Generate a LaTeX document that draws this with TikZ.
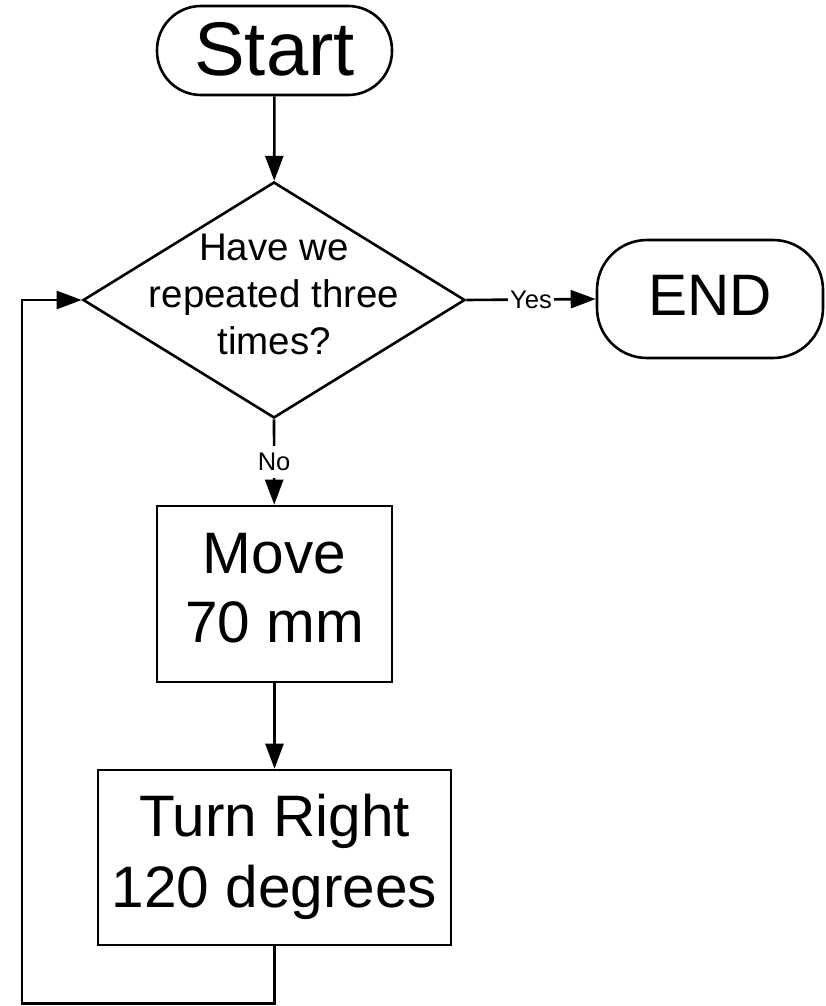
\documentclass[tikz,border=0pt]{standalone}
\usepackage{fontspec}
\setmainfont{Liberation Sans}
\usetikzlibrary{arrows.meta,shapes.geometric}
\begin{document}
\begin{tikzpicture}[x=1pt,y=1pt,
  every path/.style={line width=2.6pt},
  flow/.style={draw, line width=2.6pt, -{Triangle[length=25pt,width=18pt]}},
  terminal/.style={draw, line width=2.6pt, rectangle, inner sep=0pt},
  process/.style={draw, line width=2.6pt, rectangle, inner sep=0pt, align=center,
    font=\fontsize{58.5}{70}\selectfont},
  decision/.style={draw, line width=2.6pt, diamond, inner sep=0pt,
    minimum width=382pt, minimum height=236pt},
  branch/.style={fill=white, font=\fontsize{25.5}{28}\selectfont}
]
\useasboundingbox (0,0) rectangle (825,-1006);

% terminals
\node[terminal, rounded corners=44pt, minimum width=235pt, minimum height=89pt,
  font=\fontsize{76}{90}\selectfont] (start) at (274.5,-50.5) {\raisebox{3pt}{Start}};
\node[terminal, rounded corners=50pt, minimum width=226pt, minimum height=118pt,
  font=\fontsize{58.5}{70}\selectfont] (end) at (710,-299) {\raisebox{8pt}{END}};

% decision
\node[decision] (q) at (274,-300) {};
\node[align=center, font=\fontsize{38.5}{47}\selectfont] (qtext) at (274,-294.5)
  {Have we\\repeated three\\times?};

% processes
\node[process, minimum width=235pt, minimum height=176pt] (move) at (274.5,-594)
  {\raisebox{9pt}{\begin{tabular}{@{}c@{}}Move\\[-1pt]70 mm\end{tabular}}};
\node[process, minimum width=353pt, minimum height=175pt] (turn) at (274.5,-857.5)
  {\raisebox{3pt}{\begin{tabular}{@{}c@{}}Turn Right\\[1pt]120 degrees\end{tabular}}};

% connectors
\draw[flow] (start) -- (q);
\draw[flow] (q.east) -- node[branch, inner xsep=2pt, inner ysep=1pt] {Yes} (end.west);
\draw[flow] (q.south) -- node[branch, inner xsep=1pt, inner ysep=7pt] {No} (move);
\draw[flow] (move) -- (turn);
\coordinate (loop) at (22,-1003.5);
\draw[flow] (turn.south) |- (loop) |- (q.west);
\end{tikzpicture}
\end{document}
